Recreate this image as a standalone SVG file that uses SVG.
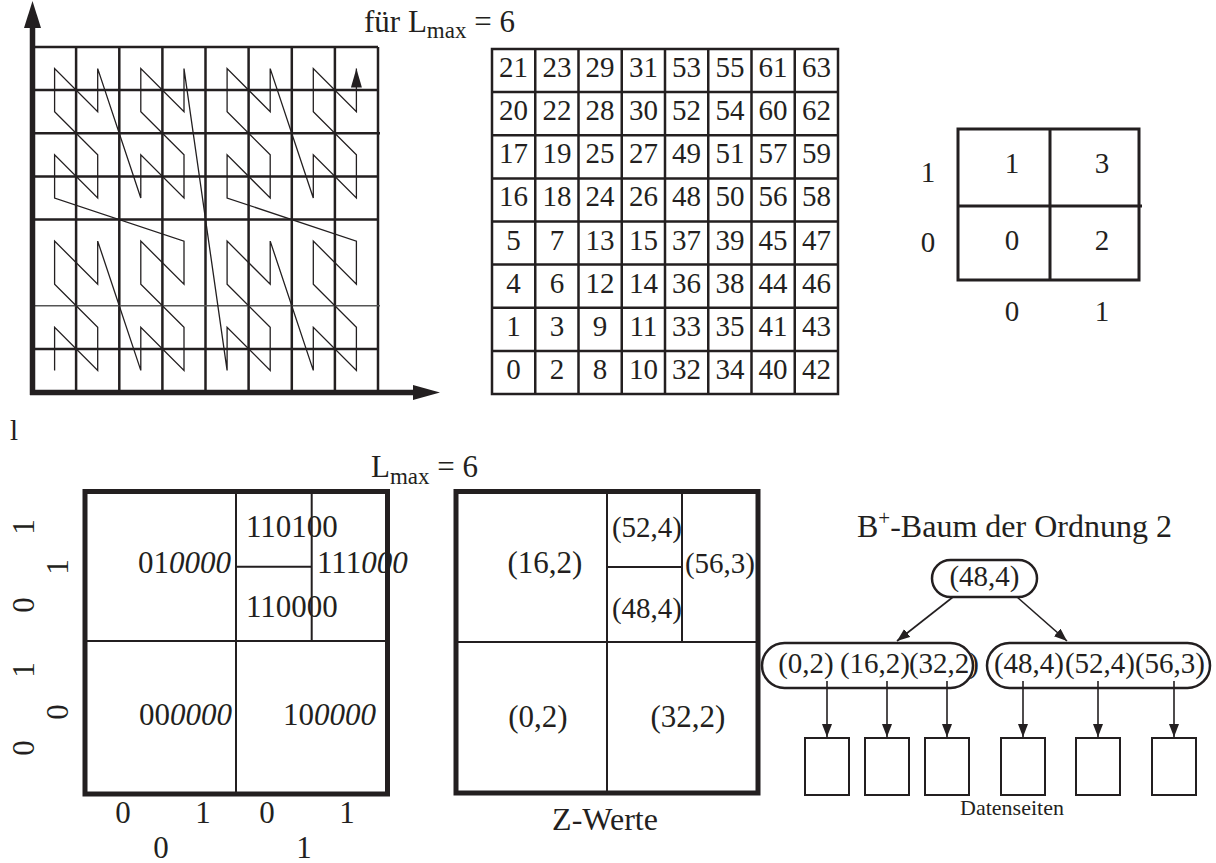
<svg xmlns="http://www.w3.org/2000/svg" width="1216" height="863" viewBox="0 0 1216 863">
<defs>
<style>
text{font-family:"Liberation Serif","Times New Roman",serif;fill:#231f20}
.t30{font-size:30px}
.t31{font-size:31px}
.t29{font-size:29px}
.tab{font-size:29px;text-anchor:middle}
.mid{text-anchor:middle}
.grid{stroke:#231f20;stroke-width:2.5;fill:none}
.thin{stroke:#231f20;stroke-width:2;fill:none}
.thick{stroke:#231f20;stroke-width:5;fill:none}
.curve{stroke:#231f20;stroke-width:1.3;fill:none;stroke-linejoin:miter}
.node{fill:#fff;stroke:#231f20;stroke-width:2.5}
.edge{stroke:#231f20;stroke-width:1.6;fill:none}
.it{font-style:italic}
</style>
<marker id="ah" markerUnits="userSpaceOnUse" markerWidth="14" markerHeight="12" refX="13" refY="5" orient="auto">
<path d="M0,0 L13,5 L0,10 Z" fill="#231f20"/>
</marker>
<marker id="ah2" markerUnits="userSpaceOnUse" markerWidth="20" markerHeight="12" refX="19" refY="5.5" orient="auto">
<path d="M0,0 L19,5.5 L0,11 Z" fill="#231f20"/>
</marker>
</defs>

<g id="zcurve">
<path class="grid" d="M76.1,47V392 M119.3,47V392 M162.4,47V392 M205.5,47V392 M248.6,47V392 M291.8,47V392 M334.9,47V392 M378,47V392"/>
<path class="grid" d="M33,47H378 M33,90.1H378 M33,133.3H380 M33,176.4H378 M33,219.5H378 M33,348.9H378"/>
<path d="M33,305.8H380" stroke="#555" stroke-width="1.5" fill="none"/>
<path d="M32.5,395V26" stroke="#231f20" stroke-width="5.5" fill="none"/>
<polygon points="24,28 41,28 32.5,1" fill="#231f20"/>
<path d="M30,392.5H414" stroke="#231f20" stroke-width="5.5" fill="none"/>
<polygon points="413,385 413,400 440,392.5" fill="#231f20"/>
<polyline class="curve" marker-end="url(#ah2)" points="54.6,370.4 54.6,327.3 97.7,370.4 97.7,327.3 54.6,284.2 54.6,241.1 97.7,284.2 97.7,241.1 140.8,370.4 140.8,327.3 184,370.4 184,327.3 140.8,284.2 140.8,241.1 184,284.2 184,241.1 54.6,198 54.6,154.8 97.7,198 97.7,154.8 54.6,111.7 54.6,68.6 97.7,111.7 97.7,68.6 140.8,198 140.8,154.8 184,198 184,154.8 140.8,111.7 140.8,68.6 184,111.7 184,68.6 227.1,370.4 227.1,327.3 270.2,370.4 270.2,327.3 227.1,284.2 227.1,241.1 270.2,284.2 270.2,241.1 313.3,370.4 313.3,327.3 356.4,370.4 356.4,327.3 313.3,284.2 313.3,241.1 356.4,284.2 356.4,241.1 227.1,198 227.1,154.8 270.2,198 270.2,154.8 227.1,111.7 227.1,68.6 270.2,111.7 270.2,68.6 313.3,198 313.3,154.8 356.4,198 356.4,154.8 313.3,111.7 313.3,68.6 356.4,111.7 356.4,68.6"/>
</g>

<g id="table">
<text class="t31" x="364" y="32">für L<tspan font-size="23" dy="6">max</tspan><tspan dy="-6"> = 6</tspan></text>
<rect x="492" y="49" width="346" height="345" class="grid"/>
<path class="grid" d="M535.25,49V394 M578.5,49V394 M621.75,49V394 M665,49V394 M708.25,49V394 M751.5,49V394 M794.75,49V394 M492,92.1H838 M492,135.3H838 M492,178.4H838 M492,221.5H838 M492,264.6H838 M492,307.8H838 M492,350.9H838"/>
<g class="tab">
<text x="513.6" y="77">21</text><text x="556.9" y="77">23</text><text x="600.1" y="77">29</text><text x="643.4" y="77">31</text><text x="686.6" y="77">53</text><text x="729.9" y="77">55</text><text x="773.1" y="77">61</text><text x="816.4" y="77">63</text>
<text x="513.6" y="120.1">20</text><text x="556.9" y="120.1">22</text><text x="600.1" y="120.1">28</text><text x="643.4" y="120.1">30</text><text x="686.6" y="120.1">52</text><text x="729.9" y="120.1">54</text><text x="773.1" y="120.1">60</text><text x="816.4" y="120.1">62</text>
<text x="513.6" y="163.3">17</text><text x="556.9" y="163.3">19</text><text x="600.1" y="163.3">25</text><text x="643.4" y="163.3">27</text><text x="686.6" y="163.3">49</text><text x="729.9" y="163.3">51</text><text x="773.1" y="163.3">57</text><text x="816.4" y="163.3">59</text>
<text x="513.6" y="206.4">16</text><text x="556.9" y="206.4">18</text><text x="600.1" y="206.4">24</text><text x="643.4" y="206.4">26</text><text x="686.6" y="206.4">48</text><text x="729.9" y="206.4">50</text><text x="773.1" y="206.4">56</text><text x="816.4" y="206.4">58</text>
<text x="513.6" y="249.5">5</text><text x="556.9" y="249.5">7</text><text x="600.1" y="249.5">13</text><text x="643.4" y="249.5">15</text><text x="686.6" y="249.5">37</text><text x="729.9" y="249.5">39</text><text x="773.1" y="249.5">45</text><text x="816.4" y="249.5">47</text>
<text x="513.6" y="292.6">4</text><text x="556.9" y="292.6">6</text><text x="600.1" y="292.6">12</text><text x="643.4" y="292.6">14</text><text x="686.6" y="292.6">36</text><text x="729.9" y="292.6">38</text><text x="773.1" y="292.6">44</text><text x="816.4" y="292.6">46</text>
<text x="513.6" y="335.8">1</text><text x="556.9" y="335.8">3</text><text x="600.1" y="335.8">9</text><text x="643.4" y="335.8">11</text><text x="686.6" y="335.8">33</text><text x="729.9" y="335.8">35</text><text x="773.1" y="335.8">41</text><text x="816.4" y="335.8">43</text>
<text x="513.6" y="378.9">0</text><text x="556.9" y="378.9">2</text><text x="600.1" y="378.9">8</text><text x="643.4" y="378.9">10</text><text x="686.6" y="378.9">32</text><text x="729.9" y="378.9">34</text><text x="773.1" y="378.9">40</text><text x="816.4" y="378.9">42</text>
</g>
</g>

<g id="quad2x2">
<rect x="958" y="129" width="181" height="151" stroke="#231f20" stroke-width="3" fill="none"/>
<path d="M1050,129V280 M958,206H1142" stroke="#231f20" stroke-width="3" fill="none"/>
<g class="t29 mid">
<text x="1012" y="173">1</text><text x="1102" y="173">3</text>
<text x="1012" y="250">0</text><text x="1102" y="250">2</text>
<text x="928" y="182">1</text><text x="928" y="252">0</text>
<text x="1012" y="321">0</text><text x="1102" y="321">1</text>
</g>
</g>

<g id="label-l">
<text class="t29 mid" x="14" y="440">l</text>
</g>

<g id="binsquare">
<text class="t31" x="371" y="477">L<tspan font-size="23" dy="7">max</tspan><tspan dy="-7"> = 6</tspan></text>
<rect x="85" y="491.5" width="302.5" height="302.5" class="thick"/>
<path class="thin" d="M236,491.5V794 M85,641H387.5 M311.7,491.5V641 M236,566.7H311.7"/>
<g class="t31">
<text x="138" y="573">01<tspan class="it">0000</tspan></text>
<text x="246" y="537">110100</text>
<text x="317" y="573">111<tspan class="it">000</tspan></text>
<text x="246" y="617">110000</text>
<text x="139" y="725">00<tspan class="it">0000</tspan></text>
<text x="283" y="725">10<tspan class="it">0000</tspan></text>
</g>
<g class="t31 mid">
<text transform="translate(34,527) rotate(-90)">1</text>
<text transform="translate(34,605) rotate(-90)">0</text>
<text transform="translate(34,670) rotate(-90)">1</text>
<text transform="translate(34,748) rotate(-90)">0</text>
<text transform="translate(68,567) rotate(-90)">1</text>
<text transform="translate(68,712) rotate(-90)">0</text>
<text x="123" y="823">0</text><text x="203" y="823">1</text><text x="267" y="823">0</text><text x="347" y="823">1</text>
<text x="161" y="858">0</text><text x="304" y="858">1</text>
</g>
</g>

<g id="zwerte">
<rect x="456" y="491.5" width="302" height="301.5" class="thick"/>
<path class="thin" d="M607,491.5V793 M456,642H758 M682,491.5V642 M607,567H682"/>
<g class="t31 mid">
<text x="545" y="573">(16,2)</text>
<text x="647" y="537" font-size="29">(52,4)</text>
<text x="720" y="573" font-size="29">(56,3)</text>
<text x="647" y="618" font-size="29">(48,4)</text>
<text x="538" y="727">(0,2)</text>
<text x="688" y="727">(32,2)</text>
<text x="605" y="830" font-size="32">Z-Werte</text>
</g>
</g>

<g id="btree-title">
<text x="857" y="537" font-size="32">B<tspan font-size="21" dy="-12">+</tspan><tspan dy="12">-Baum der Ordnung 2</tspan></text>
</g>

<g id="root">
<rect x="932" y="560" width="105" height="37" rx="18.5" class="node"/>
<text class="t29 mid" x="984.5" y="586">(48,4)</text>
</g>

<g id="leaf1">
<rect x="762" y="643" width="211" height="45" rx="22.5" class="node"/>
<g class="t29 mid">
<text x="806" y="673">(0,2)</text><text x="875" y="673">(16,2)</text><text x="944" y="673">(32,2)</text>
</g>
</g>

<g id="leaf2">
<rect x="987" y="643" width="223" height="45" rx="22.5" class="node"/>
<g class="t29 mid">
<text x="1029" y="673">(48,4)</text><text x="1100" y="673">(52,4)</text><text x="1170" y="673">(56,3)</text>
</g>
</g>

<g id="pages">
<rect x="805" y="738" width="44" height="57" class="thin"/>
<rect x="865" y="738" width="44" height="57" class="thin"/>
<rect x="925" y="738" width="44" height="57" class="thin"/>
<rect x="1001" y="738" width="44" height="57" class="thin"/>
<rect x="1076" y="738" width="44" height="57" class="thin"/>
<rect x="1152" y="738" width="44" height="57" class="thin"/>
<text x="1012" y="815" font-size="22" class="mid">Datenseiten</text>
</g>

<g id="connectors">
<line class="edge" x1="953" y1="597" x2="897" y2="641" marker-end="url(#ah)"/>
<line class="edge" x1="1017" y1="597" x2="1067" y2="641" marker-end="url(#ah)"/>
<line class="edge" x1="827" y1="681" x2="827" y2="737" marker-end="url(#ah)"/>
<line class="edge" x1="887" y1="681" x2="887" y2="737" marker-end="url(#ah)"/>
<line class="edge" x1="947" y1="681" x2="947" y2="737" marker-end="url(#ah)"/>
<line class="edge" x1="1023" y1="681" x2="1023" y2="737" marker-end="url(#ah)"/>
<line class="edge" x1="1098" y1="681" x2="1098" y2="737" marker-end="url(#ah)"/>
<line class="edge" x1="1174" y1="681" x2="1174" y2="737" marker-end="url(#ah)"/>
</g>
</svg>
